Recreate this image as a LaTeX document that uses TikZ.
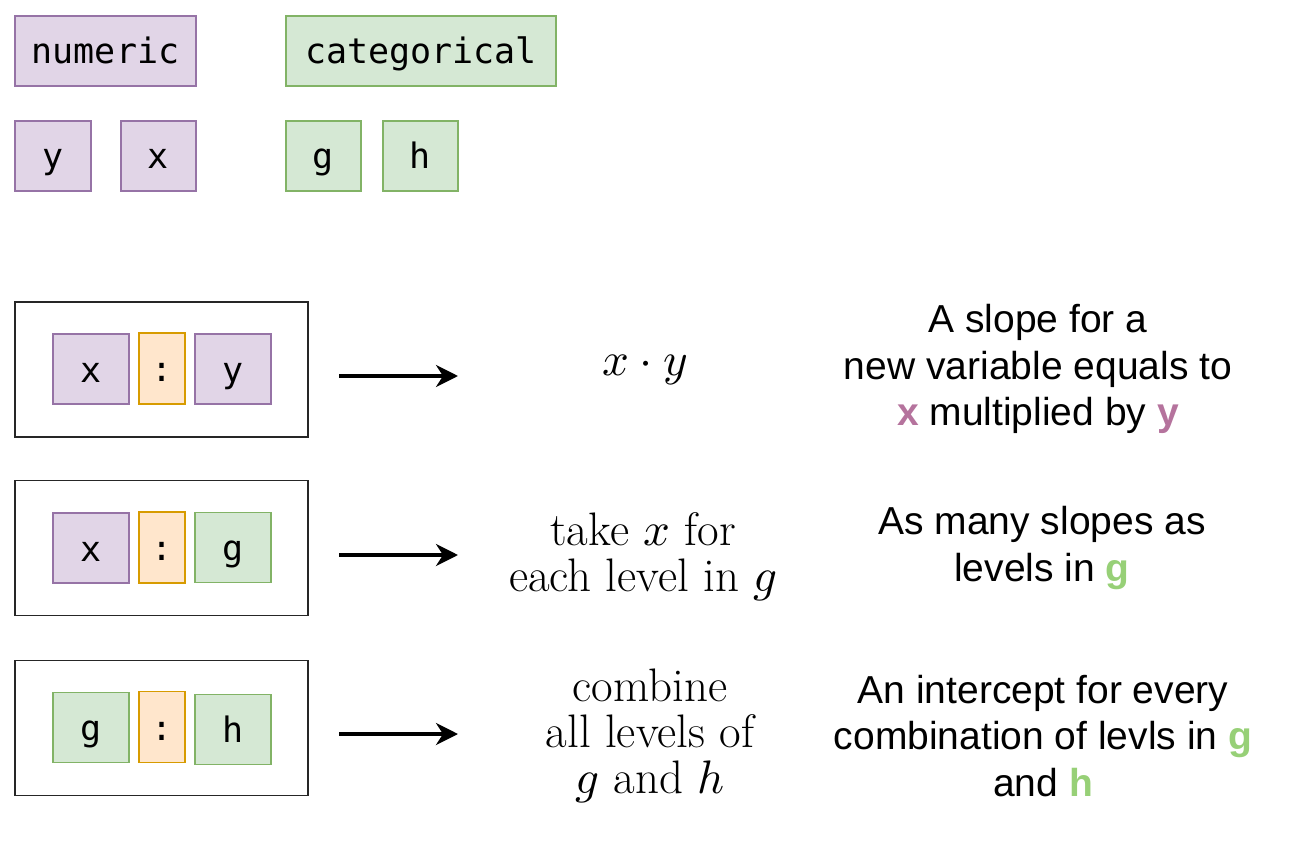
\documentclass[tikz,border=0pt]{standalone}
\usepackage{fontspec}
\usepackage{unicode-math}
\setmathfont{Latin Modern Math}
\newfontfamily\arialf{Liberation Sans}
\newfontfamily\monof{DejaVu Sans Mono}
\usetikzlibrary{arrows.meta}
\definecolor{numfill}{HTML}{E1D5E7}
\definecolor{numdraw}{HTML}{9673A6}
\definecolor{catfill}{HTML}{D5E8D4}
\definecolor{catdraw}{HTML}{82B366}
\definecolor{opfill}{HTML}{FFE6CC}
\definecolor{opdraw}{HTML}{D79B00}
\definecolor{numtext}{HTML}{B5739D}
\definecolor{cattext}{HTML}{97D077}
\tikzset{
  vbox/.style={draw, line width=1.2pt, inner sep=0pt, text height=32pt, text depth=6pt, font=\monof\fontsize{35}{40}\selectfont},
  numbox/.style={vbox, fill=numfill, draw=numdraw},
  catbox/.style={vbox, fill=catfill, draw=catdraw},
  opbox/.style={vbox, fill=opfill, draw=opdraw, minimum width=46pt, minimum height=71pt},
  sq/.style={minimum width=76pt, minimum height=70pt},
  frame/.style={draw=black!85, line width=1.5pt, minimum width=293pt, minimum height=135pt, inner sep=0pt},
  arr/.style={line width=3.5pt, -{Stealth[length=22pt, width=22pt, inset=7pt]}},
  mathtxt/.style={align=center, font=\fontsize{47}{46}\selectfont},
  desc/.style={align=center, font=\arialf\fontsize{39}{46.5}\selectfont},
}
\newcommand{\numhl}[1]{{\bfseries\color{numtext}#1}}
\newcommand{\cathl}[1]{{\bfseries\color{cattext}#1}}
\begin{document}
\begin{tikzpicture}[x=1pt, y=-1pt]
\useasboundingbox (0,0) rectangle (1289,858);
% legend
\node[numbox, minimum width=181pt, minimum height=70pt] (numeric) at (105.5,51) {numeric};
\node[catbox, minimum width=270pt, minimum height=70pt] (categorical) at (421,51) {categorical};
\node[numbox, sq] (ly) at (53,156) {y};
\node[numbox, sq, minimum width=75pt] (lx) at (158.5,156) {x};
\node[catbox, sq, minimum width=75pt] (lg) at (323.5,156) {g};
\node[catbox, sq, minimum width=75pt] (lh) at (420.5,156) {h};

% row 1
\node[frame] (f1) at (161.5,369.5) {};
\node[numbox, sq] (r1a) at (91,369) {x};
\node[opbox] (r1o) at (162,368.5) {:};
\node[numbox, sq] (r1b) at (233,369) {y};
\coordinate (a1s) at (339,376);
\coordinate (a1e) at (458,376);
\draw[arr] (a1s) -- (a1e);
\node[mathtxt] (m1) at (645,370) {$x\cdot y$};
\node[desc] (d1) at (1038,369) {A slope for a\\new variable equals to\\\numhl{x} multiplied by \numhl{y}};

% row 2
\node[frame] (f2) at (161.5,548) {};
\node[numbox, sq] (r2a) at (91,548) {x};
\node[opbox] (r2o) at (162,547.5) {:};
\node[catbox, sq] (r2b) at (233,547.5) {g};
\coordinate (a2s) at (339,555);
\coordinate (a2e) at (458,555);
\draw[arr] (a2s) -- (a2e);
\node[mathtxt] (m2) at (643,557) {take $x$ for\\each level in $g$};
\node[desc] (d2) at (1042,548) {As many slopes as\\levels in \cathl{g}};

% row 3
\node[frame] (f3) at (161.5,728) {};
\node[catbox, sq] (r3a) at (91,727.5) {g};
\node[opbox] (r3o) at (162,727) {:};
\node[catbox, sq] (r3b) at (233,729.5) {h};
\coordinate (a3s) at (339,734);
\coordinate (a3e) at (458,734);
\draw[arr] (a3s) -- (a3e);
\node[mathtxt] (m3) at (650,736) {combine\\all levels of\\$g$ and $h$};
\node[desc] (d3) at (1043,736) {An intercept for every\\combination of levls in \cathl{g}\\and \cathl{h}};
\end{tikzpicture}
\end{document}
